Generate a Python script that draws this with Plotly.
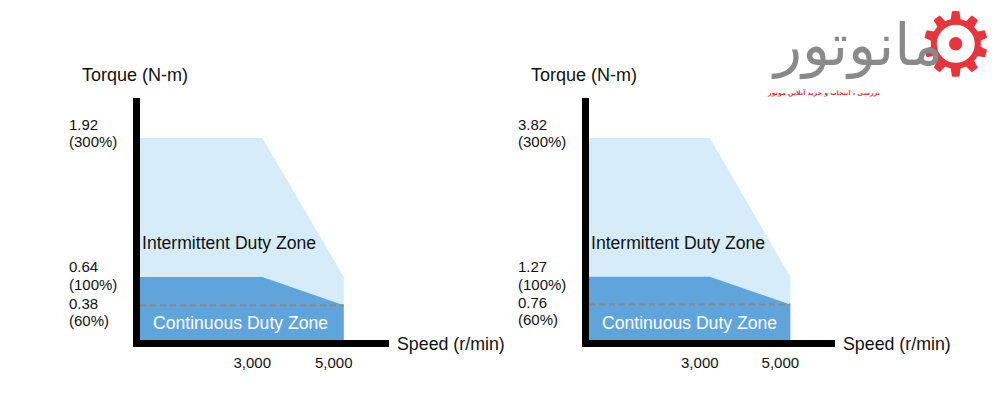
import plotly.graph_objects as go

# speed breakpoints (r/min) of the zone outline
speed = [0, 0, 3000, 5000, 5000]
speed_ticks = [3000, 5000]
speed_tick_text = ["3,000", "5,000"]

# torque levels (N-m) for the two motors
left_peak, left_rated, left_cont = 1.92, 0.64, 0.38
right_peak, right_rated, right_cont = 3.82, 1.27, 0.76
pct_labels = ["(300%)", "(100%)", "(60%)"]

LIGHT = "#d6ecf8"
DARK = "#5fa5db"
DASH = "#8e8784"
FONT = "Liberation Sans, Arial, sans-serif"

fig = go.Figure()


def add_chart(fig, xa, ya, peak, rated, cont):
    # intermittent zone
    fig.add_trace(go.Scatter(
        x=speed, y=[0, peak, peak, rated, 0],
        xaxis=xa, yaxis=ya, fill="toself", fillcolor=LIGHT,
        mode="lines", line=dict(width=0), hoverinfo="skip", showlegend=False))
    # continuous zone
    fig.add_trace(go.Scatter(
        x=speed, y=[0, rated, rated, cont, 0],
        xaxis=xa, yaxis=ya, fill="toself", fillcolor=DARK,
        mode="lines", line=dict(width=0), hoverinfo="skip", showlegend=False))
    # 60% line
    fig.add_trace(go.Scatter(
        x=[0, 5000], y=[cont, cont], xaxis=xa, yaxis=ya, mode="lines",
        line=dict(color=DASH, width=2, dash="6px,4px"),
        hoverinfo="skip", showlegend=False))


add_chart(fig, "x", "y", left_peak, left_rated, left_cont)
add_chart(fig, "x2", "y2", right_peak, right_rated, right_cont)

axis_common = dict(showline=True, linewidth=7, linecolor="black", showgrid=False,
                   zeroline=False, ticks="", fixedrange=True)
xaxis_common = dict(axis_common, tickvals=speed_ticks, ticktext=speed_tick_text,
                    tickfont=dict(size=15, color="#111"), ticklabelshift=-10,
                    ticklabelstandoff=3, range=[0, 6110])
yaxis_common = dict(axis_common, showticklabels=False)

fig.update_layout(
    width=1000, height=415,
    margin=dict(l=0, r=0, t=0, b=0),
    paper_bgcolor="white", plot_bgcolor="white",
    font=dict(family=FONT, color="#111"),
    xaxis=dict(xaxis_common, domain=[0.140, 0.389], anchor="y"),
    yaxis=dict(yaxis_common, domain=[0.181, 0.764], anchor="x", range=[0.06, 2.288]),
    xaxis2=dict(xaxis_common, domain=[0.589, 0.835], anchor="y2"),
    yaxis2=dict(yaxis_common, domain=[0.181, 0.764], anchor="x2", range=[0.11, 4.554]),
)

anns = []
shifts = [(13, -4), (10, -8), (2, -15)]
for sfx, vals in (("", (left_peak, left_rated, left_cont)),
                  ("2", (right_peak, right_rated, right_cont))):
    xd = "x" + sfx + " domain"
    yd = "y" + sfx + " domain"
    # torque tick labels, left aligned, two lines each
    for v, p, (s1, s2) in zip(vals, pct_labels, shifts):
        anns.append(dict(xref=xd, yref="y" + sfx, x=0, y=v, xshift=-73,
                         xanchor="left", yanchor="middle", yshift=s1,
                         text=f"{v:.2f}", showarrow=False,
                         font=dict(size=15, color="#111")))
        anns.append(dict(xref=xd, yref="y" + sfx, x=0, y=v, xshift=-73,
                         xanchor="left", yanchor="middle", yshift=s2,
                         text=p, showarrow=False,
                         font=dict(size=15, color="#111")))
    anns.append(dict(xref=xd, yref=yd, x=0, y=1, xshift=-60, yshift=23,
                     xanchor="left", yanchor="middle", text="Torque (N-m)",
                     showarrow=False, font=dict(size=18, color="#111")))
    anns.append(dict(xref=xd, yref=yd, x=1, y=0, xshift=6, yshift=-4,
                     xanchor="left", yanchor="middle", text="Speed (r/min)",
                     showarrow=False, font=dict(size=17.8, color="#111")))
    anns.append(dict(xref=xd, yref=yd, x=0, y=0.40, xshift=0,
                     xanchor="left", yanchor="middle", text="Intermittent Duty Zone",
                     showarrow=False, font=dict(size=17.6, color="#111")))
    anns.append(dict(xref=xd, yref=yd, x=0.045, y=0.07,
                     xanchor="left", yanchor="middle", text="Continuous Duty Zone",
                     showarrow=False, font=dict(size=17.6, color="white")))

# logo
anns.append(dict(xref="paper", yref="paper", x=0.955, y=0.892, xanchor="center",
                 yanchor="middle", text="⚙", showarrow=False,
                 font=dict(size=88, color="#e8343a", family="DejaVu Sans")))
anns.append(dict(xref="paper", yref="paper", x=0.945, y=0.89, xanchor="right",
                 yanchor="middle", text="مانوتور", showarrow=False,
                 font=dict(size=58, color="#8a8a8a", family="DejaVu Sans")))
anns.append(dict(xref="paper", yref="paper", x=0.882, y=0.778, xanchor="right",
                 yanchor="middle", text="<b>بررسی ، انتخاب و خرید آنلاین موتور</b>",
                 showarrow=False,
                 font=dict(size=6.3, color="#e8343a", family="DejaVu Sans")))

fig.update_layout(annotations=anns)

fig.write_html("out.html", config={"displayModeBar": False},
               post_script="document.body.style.margin='0';")
